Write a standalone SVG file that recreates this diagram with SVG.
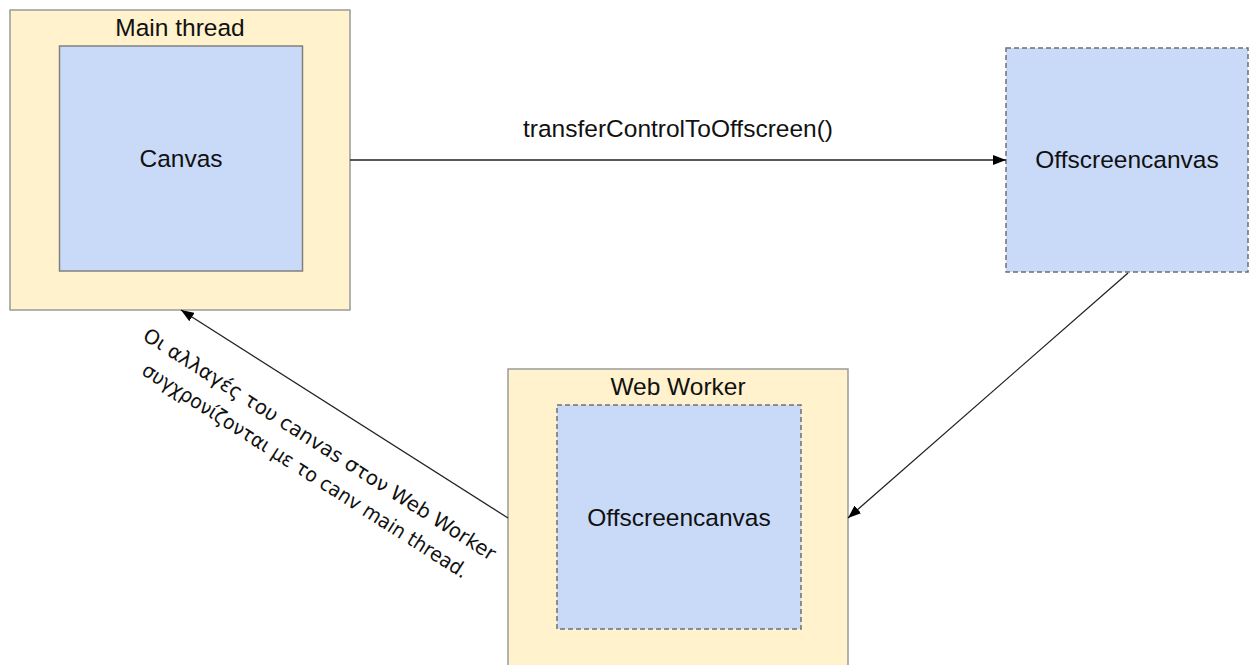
<svg xmlns="http://www.w3.org/2000/svg" width="1249" height="665" viewBox="0 0 1249 665">
  <style>
    .outer { fill: #fff2cc; stroke: #9a9a9a; stroke-width: 1.5; }
    .inner { fill: #c9daf8; stroke: #808080; stroke-width: 1.5; }
    .dashed { stroke-dasharray: 5 3; stroke: #707070; }
    .label { font-family: "Liberation Sans", Arial, sans-serif; font-size: 24.5px; fill: #111; text-anchor: middle; }
    .edge { stroke: #222; stroke-width: 1.3; fill: none; marker-end: url(#arrow); }
    .note { font-family: "DejaVu Sans", Verdana, sans-serif; font-size: 20px; fill: #111; text-anchor: middle; }
  </style>
  <defs>
    <marker id="arrow" viewBox="0 0 13 10" refX="13" refY="5" markerWidth="13" markerHeight="10" markerUnits="userSpaceOnUse" orient="auto">
      <path d="M0,0 L13,5 L0,10 Z" fill="#000"/>
    </marker>
  </defs>
  <rect width="1249" height="665" fill="#fff"/>

  <g id="main-thread">
    <rect class="outer" x="10" y="10" width="340" height="300"/>
    <text class="label" x="180" y="36">Main thread</text>
  </g>
  <g id="canvas">
    <rect class="inner" x="59.5" y="46" width="243" height="225"/>
    <text class="label" x="181" y="167">Canvas</text>
  </g>

  <g id="offscreen-main">
    <rect class="inner dashed" x="1006" y="48" width="242" height="224"/>
    <text class="label" x="1127" y="168">Offscreencanvas</text>
  </g>

  <g id="web-worker">
    <rect class="outer" x="508" y="369" width="340" height="310"/>
    <text class="label" x="678" y="395">Web Worker</text>
  </g>
  <g id="offscreen-worker">
    <rect class="inner dashed" x="557" y="405" width="244" height="224"/>
    <text class="label" x="679" y="526">Offscreencanvas</text>
  </g>

  <g id="connectors">
    <line class="edge" x1="350" y1="160" x2="1006" y2="160"/>
    <text class="label" x="678" y="137">transferControlToOffscreen()</text>
    <line class="edge" x1="1128" y1="273" x2="848" y2="518"/>
    <line class="edge" x1="508" y1="518" x2="181" y2="310"/>
    <g transform="translate(316,450) rotate(32.5)">
      <text class="note" x="0" y="0">Οι αλλαγές του canvas στον Web Worker</text>
      <text class="note" x="2" y="30" textLength="382" lengthAdjust="spacingAndGlyphs">συγχρονίζονται με το canv main thread.</text>
    </g>
  </g>
</svg>
